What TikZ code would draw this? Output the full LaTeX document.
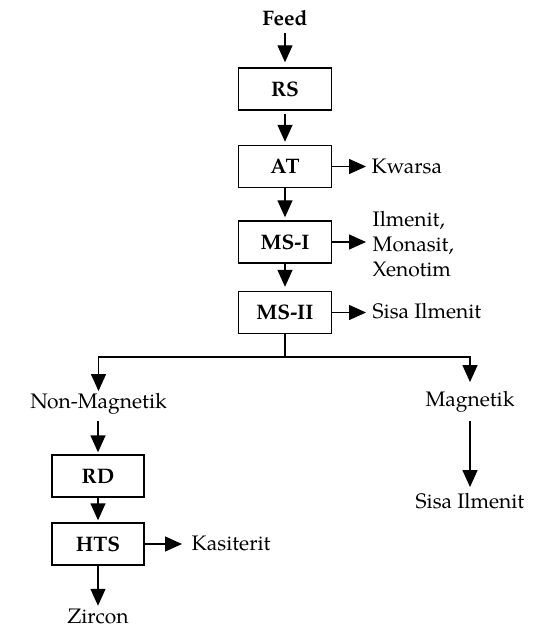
\documentclass[tikz,border=0pt]{standalone}
\usepackage{fontspec}
\setmainfont{TeX Gyre Pagella}
\usetikzlibrary{arrows.meta}
\begin{document}
\begin{tikzpicture}[x=1pt,y=-1pt,
  font=\fontsize{21}{25}\selectfont,
  line width=1.4pt,
  flow/.style={-{Triangle[length=17pt,width=15pt]}},
  unit/.style={draw,minimum width=93pt,minimum height=42pt,inner sep=0pt,font=\fontsize{21}{25}\selectfont\bfseries},
  lbl/.style={inner sep=0pt,anchor=base}]
\useasboundingbox (0,0) rectangle (535,628);

% main column of process units
\node[lbl,font=\fontsize{21}{25}\selectfont\bfseries] (feed) at (285,26) {Feed};
\node[unit] (rs)  at (285,89)  {RS};
\node[unit] (at)  at (285,166.5) {AT};
\node[unit] (ms1) at (285,242) {MS-I};
\node[unit] (ms2) at (285,312.5) {MS-II};

% side products
\node[lbl,anchor=base west] (kwarsa) at (371,174) {Kwarsa};
\node[lbl,align=left,anchor=north west] (heavy) at (372,211) {Ilmenit,\\Monasit,\\Xenotim};
\node[lbl,anchor=base west] (sisa1) at (372,318) {Sisa Ilmenit};

\draw[flow,shorten <=6pt,shorten >=5pt] (feed) -- (rs);
\draw[flow,shorten <=3pt,shorten >=3pt] (rs) -- (at);
\draw[flow,shorten >=3pt] (at) -- (ms1);
\draw[flow,shorten >=4pt] (ms1) -- (ms2);
\draw[flow,shorten >=5pt] (at.east) -- (at.east -| kwarsa.west);
\draw[flow,shorten >=6pt] (ms1.east) -- (ms1.east -| heavy.west);
\draw[flow,shorten >=6pt] (ms2.east) -- (ms2.east -| sisa1.west);

% magnetic split
\coordinate (split) at (285,357);
\node[lbl] (nonmag) at (98.5,408) {Non-Magnetik};
\node[lbl] (mag) at (470,406) {Magnetik};
\node[lbl] (sisa2) at (470,508) {Sisa Ilmenit};
\draw (ms2.south) -- (split);
\draw[flow,shorten >=1pt] (split) -| (nonmag.north);
\draw[flow,shorten >=8pt] (split) -| (mag.north);
\draw[flow,shorten <=8pt,shorten >=5pt] (mag.south) -- (sisa2.north);

% non-magnetic branch
\node[unit,minimum width=92pt] (rd)  at (98,476) {RD};
\node[unit,minimum width=92pt] (hts) at (98,544) {HTS};
\node[lbl,anchor=base west] (kasiterit) at (191,550) {Kasiterit};
\node[lbl] (zircon) at (98,623) {Zircon};

\draw[flow,shorten <=6pt,shorten >=2pt] (nonmag.south -| rd.north) -- (rd.north);
\draw[flow,shorten >=2pt] (rd) -- (hts);
\draw[flow,shorten >=9pt] (hts.east) -- (hts.east -| kasiterit.west);
\draw[flow,shorten >=2pt] (hts) -- (zircon.north);
\end{tikzpicture}
\end{document}
